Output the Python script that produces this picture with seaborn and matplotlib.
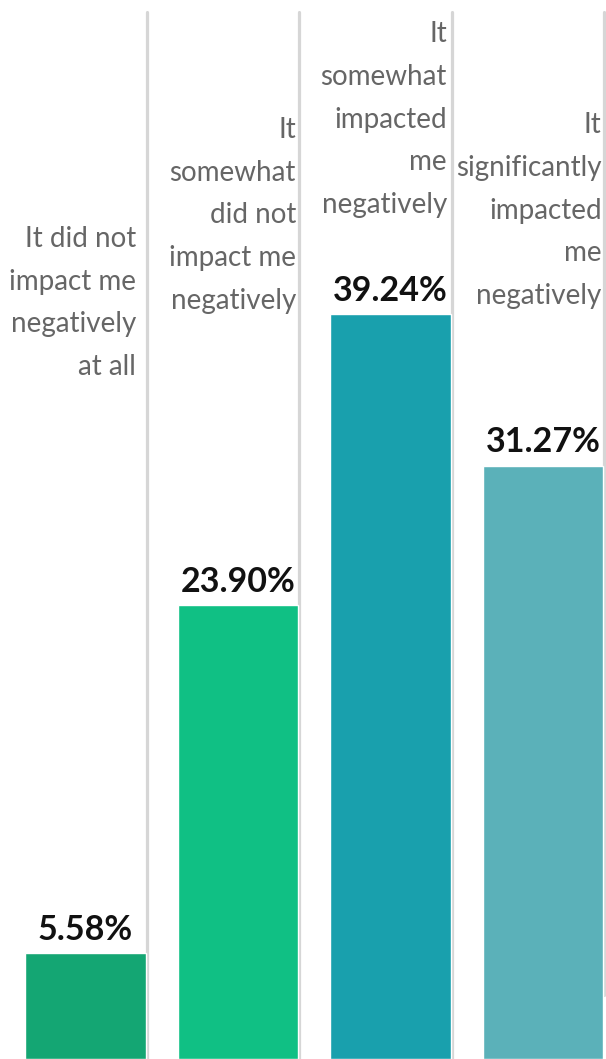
import matplotlib
matplotlib.use("Agg")
import matplotlib.pyplot as plt
import seaborn as sns
import pandas as pd

categories = [
    "It did not\nimpact me\nnegatively\nat all",
    "It\nsomewhat\ndid not\nimpact me\nnegatively",
    "It\nsomewhat\nimpacted\nme\nnegatively",
    "It\nsignificantly\nimpacted\nme\nnegatively",
]
values = [5.58, 23.90, 39.24, 31.27]
value_labels = ["5.58%", "23.90%", "39.24%", "31.27%"]
colors = ["#14a673", "#10c084", "#19a0ad", "#5bb1b9"]

# layout (axes fraction of label top, label right offset, separator bottom)
label_tops = [0.7866, 0.8895, 0.980, 0.894]
label_right = [0.33, 0.38, 0.37, 0.385]
sep_bottoms = [0.0, 0.0, 0.0, 0.06]

sns.set_theme(style="white")
plt.rcParams["font.family"] = ["Lato", "DejaVu Sans"]

fig = plt.figure(figsize=(6.06, 10.59), dpi=100)
ax = fig.add_axes([0, 0, 1, 1])

df = pd.DataFrame({"cat": categories, "val": values})
sns.barplot(data=df, x="cat", y="val", hue="cat", palette=colors,
            legend=False, width=0.79, ax=ax, zorder=2, saturation=1)

for i in range(len(categories)):
    ax.axvline(i + 0.40, ymin=sep_bottoms[i], ymax=0.989, color="#d6d6d6",
               lw=2.3, zorder=1)
    ax.annotate(value_labels[i], xy=(i, values[i]), xytext=(0, 9.5),
                textcoords="offset points", ha="center", va="baseline",
                fontsize=24.5, fontweight="bold", color="#111111", zorder=3)
    ax.text(i + label_right[i], label_tops[i], categories[i],
            transform=ax.get_xaxis_transform(), ha="right", va="top",
            fontsize=20, color="#666666", linespacing=1.795, zorder=3)

ax.set_xlim(-0.561, 3.413)
ax.set_ylim(0, 55.8)
ax.set_xlabel("")
ax.set_ylabel("")
ax.set_xticks([])
ax.set_yticks([])
for s in ax.spines.values():
    s.set_visible(False)

fig.savefig("out.png", dpi=100)
